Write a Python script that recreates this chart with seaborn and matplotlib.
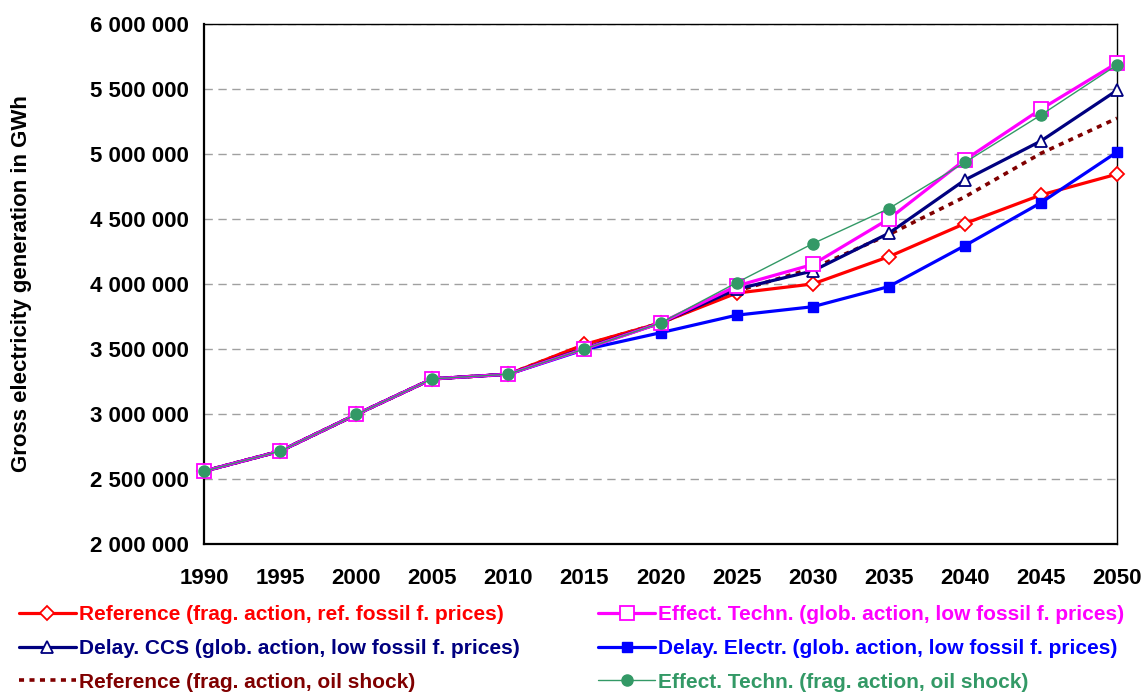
import numpy as np
import pandas as pd
import matplotlib
matplotlib.use("Agg")
import matplotlib.pyplot as plt
from matplotlib.ticker import FuncFormatter, MultipleLocator
import seaborn as sns

years = [1990, 1995, 2000, 2005, 2010, 2015, 2020, 2025, 2030, 2035, 2040, 2045, 2050]

# GWh
ref_frag = [2560000, 2714000, 2996000, 3270000, 3306000, 3535000, 3700000, 3930000, 4000000, 4210000, 4465000, 4685000, 4845000]
eff_glob = [2560000, 2714000, 2996000, 3270000, 3306000, 3500000, 3700000, 3985000, 4150000, 4500000, 4955000, 5345000, 5700000]
ccs_glob = [2560000, 2714000, 2996000, 3270000, 3306000, 3505000, 3700000, 3960000, 4100000, 4390000, 4800000, 5100000, 5490000]
electr_glob = [2560000, 2714000, 2996000, 3270000, 3306000, 3495000, 3625000, 3760000, 3825000, 3980000, 4295000, 4625000, 5015000]
ref_oil = [2560000, 2714000, 2996000, 3270000, 3306000, 3530000, 3700000, 3945000, 4120000, 4380000, 4670000, 5005000, 5275000]
eff_oil = [2560000, 2714000, 2996000, 3270000, 3306000, 3500000, 3700000, 4010000, 4310000, 4580000, 4935000, 5300000, 5685000]

labels = [
    "Reference (frag. action, ref. fossil f. prices)",
    "Delay. CCS (glob. action, low fossil f. prices)",
    "Reference (frag. action, oil shock)",
    "Effect. Techn. (glob. action, low fossil f. prices)",
    "Delay. Electr. (glob. action, low fossil f. prices)",
    "Effect. Techn. (frag. action, oil shock)",
]
series = [ref_frag, ccs_glob, ref_oil, eff_glob, electr_glob, eff_oil]
colors = ["#FF0000", "#000080", "#800000", "#FF00FF", "#0000FF", "#339966"]

sns.set_style("white")
plt.rcParams['font.family'] = ['Liberation Sans', 'DejaVu Sans']
plt.rcParams['font.weight'] = 'bold'
plt.rcParams['axes.labelweight'] = 'bold'
plt.rcParams['text.color'] = 'black'
plt.rcParams['axes.labelcolor'] = 'black'
plt.rcParams['xtick.color'] = 'black'
plt.rcParams['ytick.color'] = 'black'

fig = plt.figure(figsize=(11.43, 6.95), dpi=100)
ax = fig.add_axes([0.1785, 0.2173, 0.7988, 0.7482])

styles = {
    0: dict(marker="D", ms=7, mfc="white", mec="#FF0000", mew=1.3, lw=2.3),
    1: dict(marker="^", ms=9, mfc="white", mec="#000080", mew=1.3, lw=2.3),
    2: dict(marker=None, lw=2.6, dashes=(1.4, 1.5)),
    3: dict(marker="s", ms=10, mfc="white", mec="#FF00FF", mew=1.3, lw=2.3),
    4: dict(marker="s", ms=7.5, mfc="#0000FF", mec="#0000FF", mew=1, lw=2.3),
    5: dict(marker="o", ms=8, mfc="#339966", mec="#339966", mew=1, lw=1.0),
}
zorder = {2: 2, 0: 3, 4: 4, 1: 5, 3: 6, 5: 7}

handles = []
for i, (vals, lab, col) in enumerate(zip(series, labels, colors)):
    df = pd.DataFrame({"year": years, "GWh": vals})
    st = dict(styles[i])
    dashes = st.pop("dashes", None)
    sns.lineplot(data=df, x="year", y="GWh", ax=ax, color=col, label=lab,
                 zorder=zorder[i], clip_on=False, **st)
    line = ax.get_lines()[-1]
    if dashes is not None:
        line.set_dashes(dashes)
    handles.append(line)

ax.set_xlim(1990, 2050)
ax.set_ylim(2000000, 6000000)
ax.xaxis.set_major_locator(MultipleLocator(5))
ax.yaxis.set_major_locator(MultipleLocator(500000))
ax.yaxis.set_major_formatter(FuncFormatter(lambda v, p: '{:,.0f}'.format(v).replace(',', ' ')))

ax.yaxis.grid(True, color="#A0A0A0", linestyle=(0, (6, 4)), linewidth=1.0)
ax.xaxis.grid(False)
ax.set_axisbelow(True)

for s in ["top", "right"]:
    ax.spines[s].set_color("black")
    ax.spines[s].set_linewidth(1.0)
for s in ["left", "bottom"]:
    ax.spines[s].set_color("black")
    ax.spines[s].set_linewidth(1.6)

ax.tick_params(axis="both", direction="out", length=5, width=1.2, color="black",
               labelsize=16, pad=6)
ax.tick_params(axis="x", pad=12)

ax.set_xlabel("")
ax.set_ylabel("Gross electricity generation in GWh", fontsize=16, labelpad=42)

ax.get_legend().remove()
leg = fig.legend(handles=handles, labels=labels, ncol=2, loc="lower left",
                 bbox_to_anchor=(0.0, -0.022), frameon=False, handlelength=2.75,
                 handletextpad=0.15, columnspacing=3.75, labelspacing=0.7,
                 prop={"family": "Liberation Sans", "weight": "bold", "size": 15})
for txt, col in zip(leg.get_texts(), colors):
    txt.set_color(col)

fig.savefig("out.png", dpi=100)
